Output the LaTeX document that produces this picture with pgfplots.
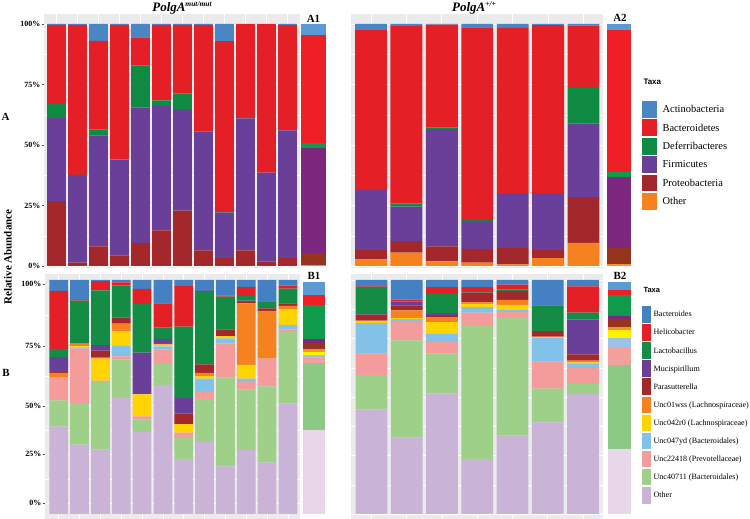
\documentclass[border=0pt]{standalone}
\usepackage{pgfplots}
\pgfplotsset{compat=1.18}
\usepackage{pgfplotstable}
\usepackage{fontspec}
\setmainfont{Liberation Serif}
\setsansfont{Liberation Sans}

\definecolor{panelgray}{HTML}{EBEBEB}
% main (top)
\definecolor{cAct}{HTML}{4A85C4}
\definecolor{cBac}{HTML}{E41F26}
\definecolor{cDef}{HTML}{0E8A43}
\definecolor{cFir}{HTML}{6A3F99}
\definecolor{cPro}{HTML}{A2282C}
\definecolor{cOth}{HTML}{F5821F}
% summary (top)
\definecolor{sAct}{HTML}{5B9BD5}
\definecolor{sBac}{HTML}{EE2025}
\definecolor{sDef}{HTML}{109A4B}
\definecolor{sFir}{HTML}{7D287E}
\definecolor{sPro}{HTML}{953520}
\definecolor{sOth}{HTML}{F7932B}
% main (bottom)
\definecolor{bBact}{HTML}{4580C2}
\definecolor{bHeli}{HTML}{E41F26}
\definecolor{bLact}{HTML}{148C45}
\definecolor{bMuci}{HTML}{6A3F99}
\definecolor{bPara}{HTML}{A2282C}
\definecolor{bUa}{HTML}{F5821F}
\definecolor{bUb}{HTML}{FFD400}
\definecolor{bUc}{HTML}{82C1E8}
\definecolor{bUd}{HTML}{F49B9B}
\definecolor{bUe}{HTML}{9ED08A}
\definecolor{bOth}{HTML}{C9B3D7}
% summary (bottom)
\definecolor{qBact}{HTML}{5B9BD5}
\definecolor{qHeli}{HTML}{EE2025}
\definecolor{qLact}{HTML}{109A4B}
\definecolor{qMuci}{HTML}{7D287E}
\definecolor{qPara}{HTML}{953520}
\definecolor{qUa}{HTML}{F7932B}
\definecolor{qUb}{HTML}{FFF200}
\definecolor{qUc}{HTML}{9DC3E6}
\definecolor{qUd}{HTML}{F4A09D}
\definecolor{qUe}{HTML}{8CC984}
\definecolor{qOth}{HTML}{E8D7E9}

% PolgA mut/mut, phylum level
\pgfplotstableread{
x Oth Pro Fir Def Bac Act
1 0 26.8 34.3 6.2 32.3 0.4
2 0 1.4 36.1 0.1 62.0 0.4
3 0 8.1 45.9 2.5 36.5 7.0
4 0 4.4 39.6 0.1 55.5 0.4
5 0 9.5 56.0 17.3 11.7 5.5
6 0 14.7 51.5 2.2 31.2 0.4
7 0 22.9 41.9 6.5 28.3 0.4
8 0 6.5 49.1 0 44.0 0.4
9 0 3.3 18.7 0.4 70.5 7.1
10 0 6.5 54.5 0.5 38.5 0
11 0 1.9 36.7 0 61.4 0
12 0 3.2 52.8 0 43.6 0.4
}\tabTL
% PolgA +/+, phylum level
\pgfplotstableread{
x Oth Pro Fir Def Bac Act
1 2.7 3.9 25.2 0 65.7 2.5
2 5.5 4.8 14.2 1.4 73.3 0.8
3 1.9 6.2 48.5 0.7 42.4 0.3
4 1.4 5.7 11.5 0.4 79.6 1.4
5 0.7 6.7 22.7 0 68.3 1.6
6 3.2 3.4 23.5 0 69.4 0.5
7 9.6 18.9 30.4 15.1 25.3 0.7
}\tabTR
% PolgA mut/mut, genus level
\pgfplotstableread{
x Oth Ue Ud Uc Ub Ua Para Muci Lact Heli Bact
1 37.3 11.3 9.9 0 0 1.8 0.3 6.4 3.6 24.8 4.6
2 29.6 17.8 23.3 0.3 0.6 1.2 0 0 18.4 0.3 8.5
3 27.5 28.8 0.7 0 9.4 0.4 3.0 2.4 23.4 3.9 0.5
4 49.6 16.4 1.4 4.4 6.4 3.2 2.5 0 13.7 1.4 1.0
5 35.1 5.2 1.4 0 9.4 0.2 0.3 17.4 20.8 6.4 3.8
6 55.2 8.8 6.4 1.2 0.8 0.3 0 2.1 5.0 10.2 10.0
7 23.5 8.9 2.4 0 3.6 0 4.6 6.6 30.5 17.3 2.6
8 30.7 18.4 3.4 5.3 1.1 1.4 3.6 0 31.0 0.4 4.7
9 20.3 38.0 14.5 2.3 0.9 0 2.9 0 14.0 0.4 6.7
10 27.3 26.0 3.6 0.9 5.9 26.3 0.6 0.6 2.0 3.8 3.0
11 22.0 32.5 11.9 0 0 20.4 1.1 0 2.9 0.2 9.0
12 47.2 30.5 1.2 1.9 6.8 1.3 1.1 0 6.3 1.3 2.4
}\tabBL
% PolgA +/+, genus level
\pgfplotstableread{
x Oth Ue Ud Uc Ub Ua Para Muci Lact Heli Bact
1 44.7 14.6 9.2 13.1 0.7 0.3 2.6 0.3 11.6 0.2 2.7
2 32.6 41.6 7.8 1.3 0.4 3.3 2.1 1.4 0.3 0.8 8.4
3 51.5 17.0 5.1 3.4 5.0 2.1 0.9 0.8 8.2 2.9 3.1
4 23.4 57.0 5.7 2.3 1.4 0.6 4.2 0 0.6 1.7 3.1
5 33.5 50.2 2.7 0.7 2.3 2.1 3.7 0 0.7 2.1 2.0
6 39.1 14.5 11.5 10.2 0.2 0.3 2.4 0 10.6 0.3 10.9
7 51.2 4.3 6.9 2.0 0.4 0.7 2.7 14.9 2.9 11.3 2.7
}\tabBR

\pgfplotsset{
  seg/.style={fill=#1, draw=none},
  panel/.style={
    scale only axis, anchor=south west, ybar stacked, bar width=0.9,
    axis background/.style={fill=panelgray},
    axis line style={draw=none},
    xmajorgrids, ymajorgrids, yminorgrids,
    major grid style={white, line width=0.8bp},
    minor grid style={white, line width=0.4bp},
    tick align=outside, major tick length=2.5bp, minor tick length=0pt,
    tick style={draw=gray!60!black, line width=0.5bp},
    xtick style={draw=none}, ytick pos=left, xtick pos=bottom,
    xticklabels={},
    yticklabel style={font=\bfseries\fontsize{8}{9}\selectfont, inner sep=1bp},
  },
  summary/.style={scale only axis, anchor=south west, ybar stacked, bar width=1,
    xmin=0.5, xmax=1.5, ymin=0, ymax=100, hide axis},
  legax/.style={scale only axis, anchor=south west, hide axis, width=1bp, height=1bp,
    xmin=0, xmax=1, ymin=0, ymax=1,
    legend cell align=left,
    legend style={at={(0,0)}, anchor=north west, draw=none, fill=none,
      inner sep=0pt, outer sep=0pt, row sep=0pt}},
}

\newcommand{\topstack}[1]{%
  \addplot[seg=cOth] table[x=x,y=Oth]{#1};
  \addplot[seg=cPro] table[x=x,y=Pro]{#1};
  \addplot[seg=cFir] table[x=x,y=Fir]{#1};
  \addplot[seg=cDef] table[x=x,y=Def]{#1};
  \addplot[seg=cBac] table[x=x,y=Bac]{#1};
  \addplot[seg=cAct] table[x=x,y=Act]{#1};
}
\newcommand{\botstack}[1]{%
  \addplot[seg=bOth] table[x=x,y=Oth]{#1};
  \addplot[seg=bUe] table[x=x,y=Ue]{#1};
  \addplot[seg=bUd] table[x=x,y=Ud]{#1};
  \addplot[seg=bUc] table[x=x,y=Uc]{#1};
  \addplot[seg=bUb] table[x=x,y=Ub]{#1};
  \addplot[seg=bUa] table[x=x,y=Ua]{#1};
  \addplot[seg=bPara] table[x=x,y=Para]{#1};
  \addplot[seg=bMuci] table[x=x,y=Muci]{#1};
  \addplot[seg=bLact] table[x=x,y=Lact]{#1};
  \addplot[seg=bHeli] table[x=x,y=Heli]{#1};
  \addplot[seg=bBact] table[x=x,y=Bact]{#1};
}

\begin{document}
\begin{tikzpicture}
\path[use as bounding box] (0,0) rectangle (750bp,519bp);

% ---------- A: phylum ----------
\begin{axis}[panel, at={(44bp,251bp)}, width=256bp, height=254bp,
  xmin=0.405, xmax=12.595, ymin=-0.83, ymax=104.13,
  xtick={1,...,12}, ytick={0,25,50,75,100}, minor ytick={12.5,37.5,62.5,87.5},
  yticklabels={0\%,25\%,50\%,75\%,100\%}]
\topstack{\tabTL}
\end{axis}

\begin{axis}[summary, at={(301bp,253bp)}, width=25bp, height=242bp]
\addplot[seg=sOth] coordinates {(1,0.3)};
\addplot[seg=sPro] coordinates {(1,4.9)};
\addplot[seg=sFir] coordinates {(1,43.7)};
\addplot[seg=sDef] coordinates {(1,2.1)};
\addplot[seg=sBac] coordinates {(1,44.5)};
\addplot[seg=sAct] coordinates {(1,4.5)};
\end{axis}

\begin{axis}[panel, at={(351bp,251bp)}, width=252bp, height=254bp,
  xmin=0.435, xmax=7.55, ymin=-0.83, ymax=104.13,
  xtick={1,...,7}, ytick={0,25,50,75,100}, minor ytick={12.5,37.5,62.5,87.5},
  yticklabels={}, ytick style={draw=none}]
\topstack{\tabTR}
\end{axis}

\begin{axis}[summary, at={(607bp,253bp)}, width=24bp, height=242bp]
\addplot[seg=sOth] coordinates {(1,1.0)};
\addplot[seg=sPro] coordinates {(1,6.6)};
\addplot[seg=sFir] coordinates {(1,29.1)};
\addplot[seg=sDef] coordinates {(1,2.1)};
\addplot[seg=sBac] coordinates {(1,58.9)};
\addplot[seg=sAct] coordinates {(1,2.3)};
\end{axis}

% ---------- B: genus ----------
\begin{axis}[panel, at={(45bp,0bp)}, width=255bp, height=245bp,
  xmin=0.338, xmax=12.58, ymin=-2.14, ymax=102.56,
  xtick={1,...,12}, ytick={4.7,25.6,46.2,71.8,98.3}, minor ytick={15,36,59,85},
  yticklabels={0\%,25\%,50\%,75\%,100\%}]
\botstack{\tabBL}
\end{axis}

\begin{axis}[summary, at={(303bp,5bp)}, width=22bp, height=232bp]
\addplot[seg=qOth] coordinates {(1,36.4)};
\addplot[seg=qUe] coordinates {(1,28.7)};
\addplot[seg=qUd] coordinates {(1,2.0)};
\addplot[seg=qUc] coordinates {(1,1.6)};
\addplot[seg=qUb] coordinates {(1,1.3)};
\addplot[seg=qUa] coordinates {(1,1.2)};
\addplot[seg=qPara] coordinates {(1,2.3)};
\addplot[seg=qMuci] coordinates {(1,1.9)};
\addplot[seg=qLact] coordinates {(1,14.5)};
\addplot[seg=qHeli] coordinates {(1,4.6)};
\addplot[seg=qBact] coordinates {(1,5.5)};
\end{axis}

\begin{axis}[panel, at={(351bp,0bp)}, width=252bp, height=245bp,
  xmin=0.42, xmax=7.57, ymin=-2.14, ymax=102.56,
  xtick={1,...,7}, ytick={0,25,50,75,100}, minor ytick={12.5,37.5,62.5,87.5},
  yticklabels={}, ytick style={draw=none}]
\botstack{\tabBR}
\end{axis}

\begin{axis}[summary, at={(608bp,5bp)}, width=23bp, height=232bp]
\addplot[seg=qOth] coordinates {(1,28.2)};
\addplot[seg=qUe] coordinates {(1,36.2)};
\addplot[seg=qUd] coordinates {(1,7.6)};
\addplot[seg=qUc] coordinates {(1,4.0)};
\addplot[seg=qUb] coordinates {(1,3.5)};
\addplot[seg=qUa] coordinates {(1,1.1)};
\addplot[seg=qPara] coordinates {(1,3.5)};
\addplot[seg=qMuci] coordinates {(1,1.4)};
\addplot[seg=qLact] coordinates {(1,9.0)};
\addplot[seg=qHeli] coordinates {(1,2.2)};
\addplot[seg=qBact] coordinates {(1,3.3)};
\end{axis}

% ---------- legends ----------
\begin{axis}[legax, at={(641bp,419bp)},
  legend style={column sep=5bp, font=\fontsize{10.5}{12}\selectfont,
    nodes={inner sep=0pt, outer sep=0pt, text height=12.4bp, text depth=5.4bp}},
  legend image code/.code={\filldraw[#1, draw=white, line width=0.6bp] (0bp,-8.9bp) rectangle (16bp,8.9bp);}]
\addlegendimage{fill=cAct}\addlegendentry{Actinobacteria}
\addlegendimage{fill=cBac}\addlegendentry{Bacteroidetes}
\addlegendimage{fill=cDef}\addlegendentry{Deferribacteres}
\addlegendimage{fill=cFir}\addlegendentry{Firmicutes}
\addlegendimage{fill=cPro}\addlegendentry{Proteobacteria}
\addlegendimage{fill=cOth}\addlegendentry{Other}
\end{axis}

\begin{axis}[legax, at={(641bp,214bp)},
  legend style={column sep=2bp, font=\fontsize{8.1}{9}\selectfont,
    nodes={inner sep=0pt, outer sep=0pt, text height=11.5bp, text depth=6bp}},
  legend image code/.code={\filldraw[#1, draw=white, line width=0.6bp] (0bp,-8.75bp) rectangle (10bp,8.75bp);}]
\addlegendimage{fill=bBact}\addlegendentry{Bacteroides}
\addlegendimage{fill=bHeli}\addlegendentry{Helicobacter}
\addlegendimage{fill=bLact}\addlegendentry{Lactobacillus}
\addlegendimage{fill=bMuci}\addlegendentry{Mucispirillum}
\addlegendimage{fill=bPara}\addlegendentry{Parasutterella}
\addlegendimage{fill=bUa}\addlegendentry{Unc01wss (Lachnospiraceae)}
\addlegendimage{fill=bUb}\addlegendentry{Unc042r0 (Lachnospiraceae)}
\addlegendimage{fill=bUc}\addlegendentry{Unc047yd (Bacteroidales)}
\addlegendimage{fill=bUd}\addlegendentry{Unc22418 (Prevotellaceae)}
\addlegendimage{fill=bUe}\addlegendentry{Unc40711 (Bacteroidales)}
\addlegendimage{fill=bOth}\addlegendentry{Other}
\end{axis}

% ---------- texts ----------
\node[anchor=west, font=\sffamily\bfseries\fontsize{8}{9}\selectfont] at (640bp,437bp) {Taxa};
\node[anchor=west, font=\sffamily\bfseries\fontsize{7.5}{9}\selectfont] at (640bp,229bp) {Taxa};

\node[font=\bfseries\itshape\fontsize{13}{15}\selectfont] at (182bp,511bp)
  {PolgA\raisebox{4.5bp}{\fontsize{7.5}{8}\selectfont mut/mut}};
\node[font=\bfseries\itshape\fontsize{13}{15}\selectfont] at (474bp,511bp)
  {PolgA\raisebox{4.5bp}{\fontsize{7.5}{8}\selectfont +/+}};

\node[font=\bfseries\fontsize{11}{13}\selectfont] at (313.5bp,500.5bp) {A1};
\node[font=\bfseries\fontsize{11}{13}\selectfont] at (620bp,501bp) {A2};
\node[font=\bfseries\fontsize{11}{13}\selectfont] at (314bp,243bp) {B1};
\node[font=\bfseries\fontsize{11}{13}\selectfont] at (620bp,243bp) {B2};

\node[font=\bfseries\fontsize{11}{13}\selectfont] at (5.5bp,402bp) {A};
\node[font=\bfseries\fontsize{11}{13}\selectfont] at (6bp,146bp) {B};
\node[rotate=90, font=\bfseries\fontsize{11}{13}\selectfont] at (8bp,262bp) {Relative Abundance};
\end{tikzpicture}
\end{document}
